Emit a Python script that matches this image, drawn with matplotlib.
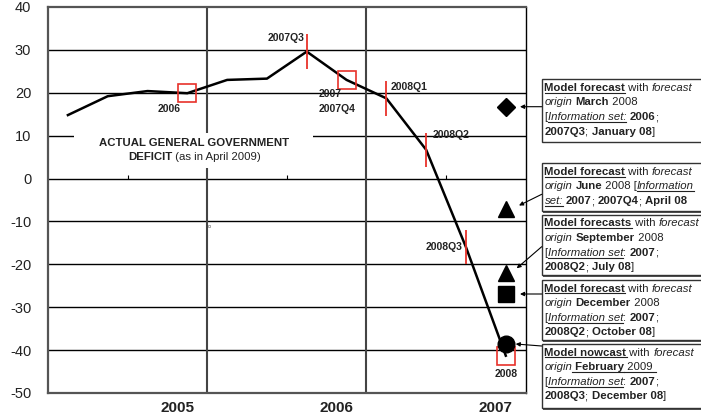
import matplotlib
matplotlib.use("Agg")
import matplotlib.pyplot as plt
from matplotlib.patches import Rectangle, FancyArrowPatch
from matplotlib.lines import Line2D

plt.rcParams['font.family'] = ['Liberation Sans', 'DejaVu Sans']
plt.rcParams['axes.unicode_minus'] = False

W, H = 701, 417

# actual deficit path (points at quarter centres)
deficit_x = [0.5, 1.5, 2.5, 3.5, 4.5, 5.5, 6.5, 7.5, 8.5, 9.5, 10.5, 11.5]
deficit = [14.8, 19.2, 20.4, 19.9, 23.0, 23.3, 29.6, 23.0, 18.7, 6.7, -16.0, -41.3]

# red vertical markers (quarterly data releases)
q_idx = [6, 8, 9, 10]
q_labels = ['2007Q3', '2008Q1', '2008Q2', '2008Q3']

# red squares (annual data releases)
a_idx = [3, 7, 11]

# model forecasts
fc_x = [11.5, 11.5, 11.5, 11.5, 11.5]
fc_y = [16.8, -7.0, -22.0, -27.0, -38.6]
fc_marker = ['D', '^', '^', 's', 'o']
fc_size = [9.5, 12, 12, 11.5, 12]

year_labels = ['2005', '2006', '2007']
year_pos = [3.25, 7.25, 11.25]
yticks = [-50, -40, -30, -20, -10, 0, 10, 20, 30, 40]

fig = plt.figure(figsize=(W / 100, H / 100), dpi=100)
ax = fig.add_axes([48 / W, 1 - 393 / H, (525.7 - 48) / W, (393 - 7) / H])
ax.set_xlim(0, 12)
ax.set_ylim(-50, 40)
ax.set_yticks(yticks)
ax.set_yticklabels([str(v) for v in yticks], fontsize=10.5, color='#222222')
ax.set_xticks(year_pos)
ax.set_xticklabels(year_labels, fontsize=11, fontweight='bold', color='#222222')
ax.tick_params(axis='both', length=0)
ax.tick_params(axis='y', pad=12)
ax.tick_params(axis='x', pad=6)

for v in yticks[1:-1]:
    ax.axhline(v, color='black', lw=1.0, zorder=1)
for v in [4, 8]:
    ax.axvline(v, color='#444444', lw=1.5, zorder=1)
ax.vlines([2, 6, 10], 0, 0.8, color='black', lw=0.8, zorder=1)
ax.plot([4.05], [-11.0], marker='s', ms=1.5, mfc='none', mec='#888888', mew=0.5)

for s in ['left', 'bottom', 'top']:
    ax.spines[s].set_color('#555555')
    ax.spines[s].set_linewidth(1.6)
ax.spines['right'].set_color('black')
ax.spines['right'].set_linewidth(1.0)

# white box behind the series label
ax.add_patch(Rectangle((0.65, 2.4), 6.0, 8.3, facecolor='white', edgecolor='none', zorder=2))

ax.plot(deficit_x, deficit, color='black', lw=1.8, zorder=3)

for i in q_idx:
    ax.vlines(deficit_x[i], deficit[i] - 4.0, deficit[i] + 4.0, color='#e8312a', lw=1.3, zorder=4)
for i in a_idx:
    ax.plot(deficit_x[i], deficit[i], marker='s', ms=13, mfc='none', mec='#e8312a', mew=1.2, zorder=4)

for x, y, m, s in zip(fc_x, fc_y, fc_marker, fc_size):
    ax.plot(x, y, marker=m, ms=s, color='black', zorder=5, linestyle='none')

lab = dict(fontsize=7.5, fontweight='bold', color='#222222', zorder=6)
ax.text(6.45, 32.8, '2007Q3', ha='right', va='center', **lab)
ax.text(8.6, 21.3, '2008Q1', ha='left', va='center', **lab)
ax.text(9.65, 10.2, '2008Q2', ha='left', va='center', **lab)
ax.text(10.4, -16.0, '2008Q3', ha='right', va='center', **lab)
ax.text(3.05, 16.2, '2006', ha='center', va='center', **lab)
ax.text(6.8, 19.7, '2007', ha='left', va='center', **lab)
ax.text(6.8, 16.2, '2007Q4', ha='left', va='center', **lab)
ax.text(11.5, -45.5, '2008', ha='center', va='center', **lab)

fig.canvas.draw()
renderer = fig.canvas.get_renderer()


def seg_width(txt, size, weight, style):
    a = fig.text(0, 0, 'II', fontsize=size, fontweight=weight, fontstyle=style)
    b = fig.text(0, 0, 'I' + txt + 'I', fontsize=size, fontweight=weight, fontstyle=style)
    w = b.get_window_extent(renderer).width - a.get_window_extent(renderer).width
    a.remove()
    b.remove()
    return w


def rich_line(x, y, segs, size=8.0, ha='left', color='#222222'):
    # segs: (text, flags) with flags containing b / i / u
    widths = []
    for txt, fl in segs:
        widths.append(seg_width(txt, size, 'bold' if 'b' in fl else 'normal',
                                'italic' if 'i' in fl else 'normal'))
    if ha == 'center':
        x = x - sum(widths) / 2
    for (txt, fl), w in zip(segs, widths):
        fig.text(x / W, 1 - y / H, txt, fontsize=size, color=color,
                 fontweight='bold' if 'b' in fl else 'normal',
                 fontstyle='italic' if 'i' in fl else 'normal', va='baseline')
        if 'u' in fl:
            fig.add_artist(Line2D([x / W, (x + w) / W], [1 - (y + 1.8) / H] * 2,
                                  color=color, lw=0.8))
        x += w


# series label
rich_line(194.5, 146, [('ACTUAL GENERAL GOVERNMENT', 'b')], size=8.2, ha='center')
rich_line(194.5, 160, [('DEFICIT', 'b'), (' (as in April 2009)', '')], size=8.2, ha='center')

# annotation boxes: (top, bottom, lines, arrow start y, arrow end (x, y))
boxes = [
    (79.3, 141.7, [
        [('Model forecast', 'bu'), (' with ', ''), ('forecast', 'i')],
        [('origin', 'i'), (' ', ''), ('March', 'b'), (' 2008', '')],
        [('[', ''), ('Information set:', 'iu'), (' ', ''), ('2006', 'b'), (';', '')],
        [('2007Q3', 'b'), ('; ', ''), ('January 08', 'b'), (']', '')],
    ], 106.7, (520, 106.7)),
    (163.3, 211.5, [
        [('Model forecast', 'bu'), (' with ', ''), ('forecast', 'i')],
        [('origin', 'i'), (' ', ''), ('June', 'b'), (' 2008 [', ''), ('Information', 'iu')],
        [('set:', 'iu'), (' ', ''), ('2007', 'b'), ('; ', ''), ('2007Q4', 'b'), ('; ', ''), ('April 08', 'b')],
    ], 194.3, (519, 205.5)),
    (215, 275, [
        [('Model forecasts', 'bu'), (' with ', ''), ('forecast', 'i')],
        [('origin', 'i'), (' ', ''), ('September', 'b'), (' 2008', '')],
        [('[', ''), ('Information set', 'iu'), (': ', ''), ('2007', 'b'), (';', '')],
        [('2008Q2', 'b'), ('; ', ''), ('July 08', 'b'), (']', '')],
    ], 246.7, (516.7, 268.3)),
    (280, 340, [
        [('Model forecast', 'bu'), (' with ', ''), ('forecast', 'i')],
        [('origin', 'i'), (' ', ''), ('December', 'b'), (' 2008', '')],
        [('[', ''), ('Information set', 'iu'), (': ', ''), ('2007', 'b'), (';', '')],
        [('2008Q2', 'b'), ('; ', ''), ('October 08', 'b'), (']', '')],
    ], 294, (520, 294)),
    (344, 408.3, [
        [('Model nowcast', 'bu'), (' with ', ''), ('forecast', 'i')],
        [('origin', 'i'), (' February', 'bu'), (' 2009 ', 'u')],
        [('[', ''), ('Information set', 'iu'), (': ', ''), ('2007', 'b'), (';', '')],
        [('2008Q3', 'b'), ('; ', ''), ('December 08', 'b'), (']', '')],
    ], 346, (515.7, 344)),
]

for top, bottom, lines, ay, (ex, ey) in boxes:
    # slight shadow, then the box
    fig.add_artist(Rectangle((543.2 / W, 1 - (bottom + 1.5) / H), (W - 541.7 + 5) / W, (bottom - top) / H,
                             facecolor='#555555', edgecolor='none',
                             transform=fig.transFigure, clip_on=False))
    fig.add_artist(Rectangle((541.7 / W, 1 - bottom / H), (W - 541.7 + 5) / W, (bottom - top) / H,
                             facecolor='white', edgecolor='#333333', lw=1.0,
                             transform=fig.transFigure, clip_on=False))
    for k, segs in enumerate(lines):
        rich_line(544.5, top + 11.5 + k * 14.6, segs, size=8.2)
    fig.add_artist(FancyArrowPatch(
        (541.7 / W, 1 - ay / H), (ex / W, 1 - ey / H), transform=fig.transFigure,
        arrowstyle='-|>', mutation_scale=6, color='black', lw=0.8, shrinkA=0, shrinkB=0))

fig.savefig('out.png', dpi=100)
